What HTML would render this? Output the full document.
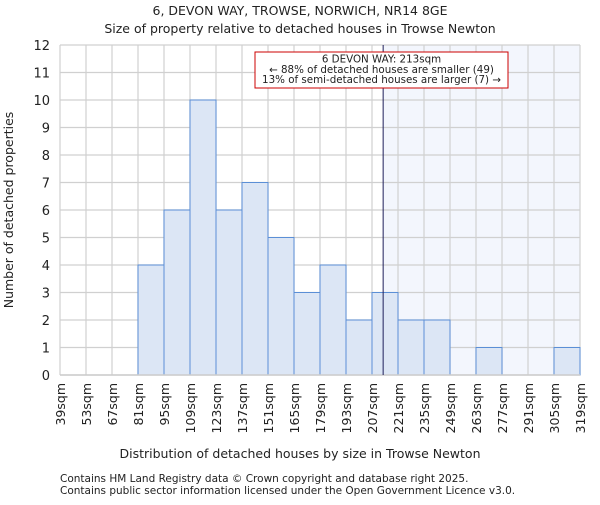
<!DOCTYPE html>
<html><head><meta charset="utf-8"><style>
body{margin:0;background:#fff;}
svg text{font-family:"DejaVu Sans","Liberation Sans",sans-serif;fill:#222;}
</style></head><body>
<svg width="600" height="500" viewBox="0 0 600 500">
<text x="300" y="15" font-size="12.5" text-anchor="middle">6, DEVON WAY, TROWSE, NORWICH, NR14 8GE</text>
<text x="300" y="33" font-size="12.5" text-anchor="middle">Size of property relative to detached houses in Trowse Newton</text>
<g id="plot"></g>
<text x="300" y="458" font-size="12.5" text-anchor="middle">Distribution of detached houses by size in Trowse Newton</text>
<text transform="translate(13,210) rotate(-90)" font-size="12.5" text-anchor="middle">Number of detached properties</text>
<text x="60" y="482" font-size="10.5" fill="#444">Contains HM Land Registry data © Crown copyright and database right 2025.</text>
<text x="60" y="494" font-size="10.5" fill="#444">Contains public sector information licensed under the Open Government Licence v3.0.</text>
</svg>
<script>
const binStarts=[39,53,67,81,95,109,123,137,151,165,179,193,207,221,235,249,263,277,291,305];
const counts=[0,0,0,4,6,10,6,7,5,3,4,2,3,2,2,0,1,0,0,1];
const tickLabels=[39,53,67,81,95,109,123,137,151,165,179,193,207,221,235,249,263,277,291,305,319];
const yTicks=[0,1,2,3,4,5,6,7,8,9,10,11,12];
const propertySize=213;
const binW=14;
const X0=60,X1=580,Y0=375,Y1=45,xMin=39,xMax=319,yMax=12;
const xs=v=>X0+(v-xMin)/(xMax-xMin)*(X1-X0);
const ys=v=>Y0-v/yMax*(Y0-Y1);
const NS="http://www.w3.org/2000/svg";
const g=document.getElementById('plot');
function mk(t,a){const e=document.createElementNS(NS,t);for(const k in a)e.setAttribute(k,a[k]);g.appendChild(e);return e;}
let r=mk('rect',{x:xs(propertySize),y:Y1,width:X1-xs(propertySize),height:Y0-Y1,fill:'#f3f6fd'});


yTicks.forEach(v=>{const l=mk('line',{x1:X0,x2:X1,y1:ys(v),y2:ys(v),stroke:'#d0d0d0','stroke-width':1.2});


const t=mk('text',{x:X0-10,y:ys(v)+5,'font-size':13,'text-anchor':'end'});t.textContent=v;

});
tickLabels.forEach(v=>{const l=mk('line',{x1:xs(v),x2:xs(v),y1:Y1,y2:Y0,stroke:'#d0d0d0','stroke-width':1.2});


const t=mk('text',{transform:`translate(${xs(v)+5},${Y0+8}) rotate(-90)`,'font-size':12.5,'text-anchor':'end'});t.textContent=v+'sqm';

});
binStarts.forEach((s,i)=>{if(!counts[i])return;
const b=mk('rect',{x:xs(s),y:ys(counts[i]),width:xs(s+binW)-xs(s),height:Y0-ys(counts[i]),fill:'#dce6f5',stroke:'#5b8fd6','stroke-width':1});

});
const ax=mk('line',{x1:X0,x2:X1,y1:Y0,y2:Y0,stroke:'#ccc','stroke-width':1.5});


const m=mk('line',{x1:xs(propertySize),x2:xs(propertySize),y1:Y1,y2:Y0,stroke:'#1f1f5a','stroke-width':1});


const box=mk('rect',{x:255,y:52,width:253,height:36,fill:'#fff',stroke:'#c00','stroke-width':1});


["6 DEVON WAY: 213sqm","← 88% of detached houses are smaller (49)","13% of semi-detached houses are larger (7) →"].forEach((s,i)=>{
const t=mk('text',{x:381.5,y:62.5+i*10.3,'font-size':10.3,'text-anchor':'middle'});t.textContent=s;

});
</script>
</body></html>
